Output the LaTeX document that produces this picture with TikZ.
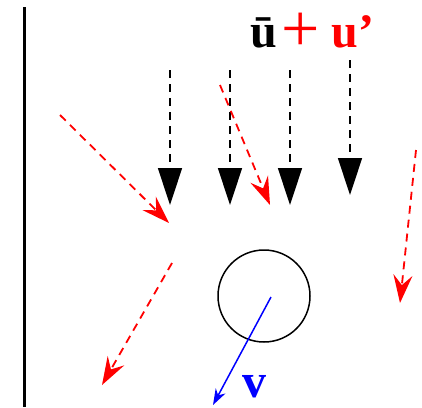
\documentclass[tikz,border=0pt]{standalone}
\usepackage{fontspec}
\setmainfont{Liberation Serif}
\usetikzlibrary{arrows.meta, positioning}

\begin{document}
\begin{tikzpicture}[x=0.5pt, y=-0.5pt,
        mean/.style={draw, black, line width=0.75pt, dash pattern=on 4pt off 3pt,
            -{Triangle[length=18.5pt, width=12pt]}},
        fluct/.style={draw, red, line width=0.9pt, dash pattern=on 4pt off 3pt,
            -{Stealth[length=14pt, width=9.5pt, inset=5pt]}},
        vel/.style={draw, blue, line width=0.75pt, -{Stealth[length=8pt, width=5.5pt, inset=2.5pt]}},
        lbl/.style={font=\bfseries\fontsize{24}{28}\selectfont, inner sep=0pt},
    ]
        \useasboundingbox (0,0) rectangle (422,407);

        % wall
        \draw[line width=1.5pt] (24.5,7) -- (24.5,407);

        % mean flow
        \foreach \x/\ya/\yb in {170/70/205, 230/70/205, 290/70/205, 350/60/195} {
            \coordinate (m\x a) at (\x,\ya);
            \coordinate (m\x b) at (\x,\yb);
            \draw[mean] (m\x a) -- (m\x b);
        }

        % fluctuations
        \coordinate (f1a) at (60,115);  \coordinate (f1b) at (169,223);
        \coordinate (f2a) at (220,85);  \coordinate (f2b) at (270,205);
        \coordinate (f3a) at (416,150); \coordinate (f3b) at (400,303);
        \coordinate (f4a) at (172,263); \coordinate (f4b) at (102,385);
        \foreach \i in {1,...,4} {
            \draw[fluct] (f\i a) -- (f\i b);
        }

        % particle
        \node[draw, circle, line width=0.75pt, minimum size=46pt, inner sep=0pt] (body) at (264,296) {};
        \coordinate (vs) at (271,297);
        \coordinate (ve) at (213,405);
        \draw[vel] (vs) -- (ve);
        \node[lbl, blue, anchor=base west] (vlabel) at (242,397) {v};

        \node[lbl, anchor=base west] (title) at (250,47)
            {ū\kern2pt{\color{red}{\fontsize{34}{34}\selectfont\mdseries\raisebox{-2pt}{+}}\kern6pt u’}};
    \end{tikzpicture}
\end{document}
